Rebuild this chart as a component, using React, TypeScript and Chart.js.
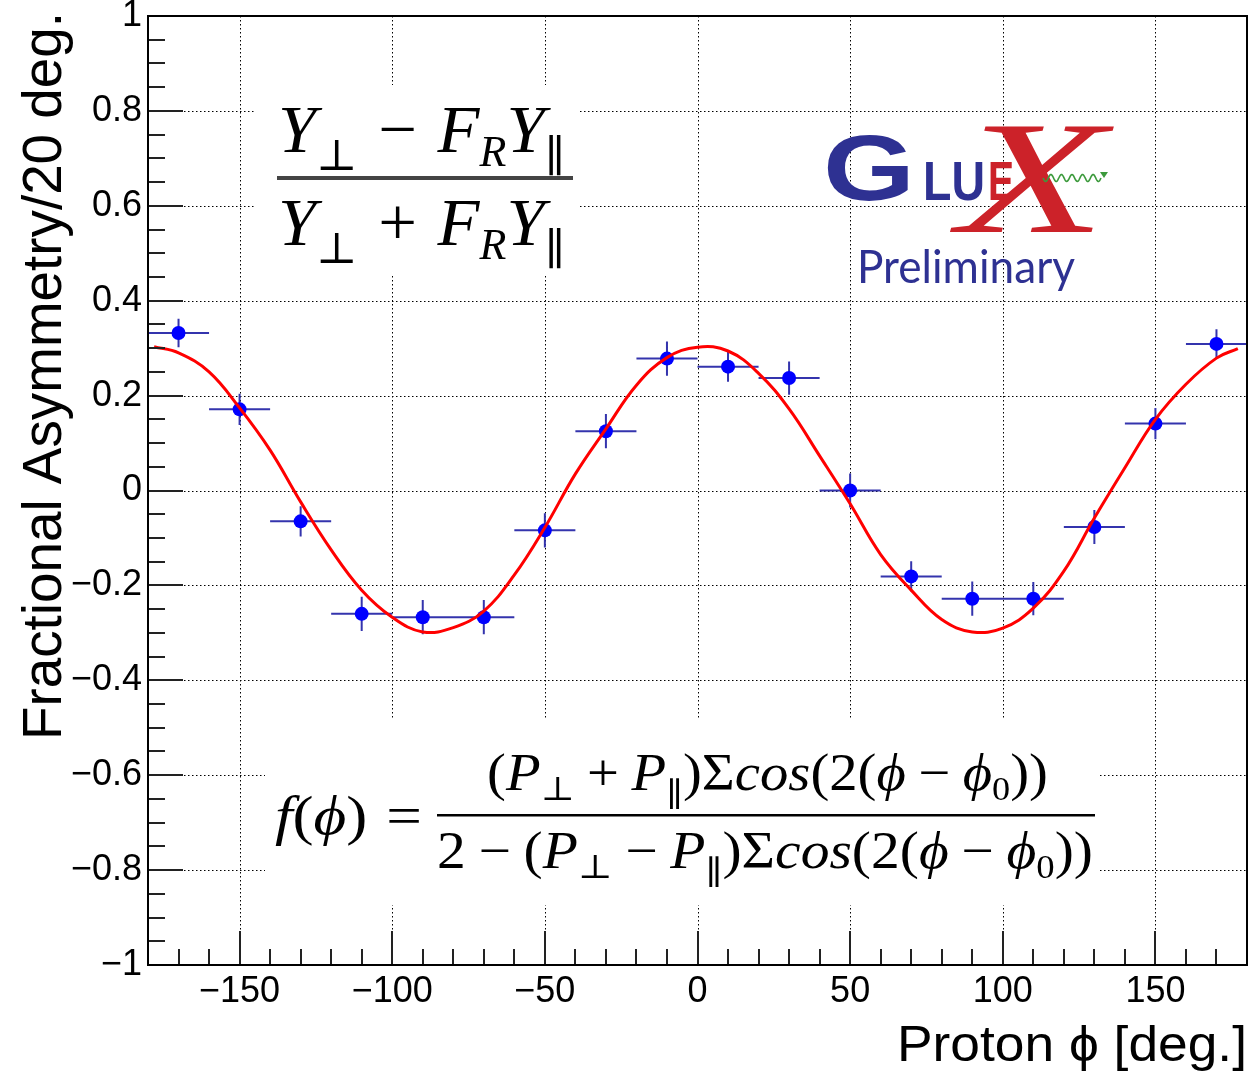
import React, { useEffect, useRef } from "react";
import { Chart, registerables } from "chart.js";

Chart.register(...registerables);

// ---------------- data ----------------
const binCenters = [-170, -150, -130, -110, -90, -70, -50, -30, -10, 10, 30, 50, 70, 90, 110, 130, 150, 170];
const asymmetry = [0.332, 0.171, -0.065, -0.26, -0.267, -0.267, -0.084, 0.125, 0.278, 0.261, 0.237, 0.0, -0.181, -0.228, -0.228, -0.077, 0.141, 0.309];
const asymErr = [0.03, 0.033, 0.032, 0.036, 0.036, 0.036, 0.036, 0.036, 0.036, 0.032, 0.035, 0.036, 0.032, 0.036, 0.035, 0.036, 0.033, 0.031];
const binHalfWidth = 10;

const fitPhi = [-178, -170, -160, -150, -140, -130, -120, -110, -100, -90, -80, -70, -60, -50, -40, -30, -20, -10, 0, 10, 20, 30, 40, 50, 60, 70, 80, 90, 100, 110, 120, 130, 140, 150, 160, 170, 177];
const fitVal = [0.303, 0.29, 0.25, 0.174, 0.085, -0.024, -0.125, -0.21, -0.267, -0.298, -0.289, -0.254, -0.178, -0.078, 0.035, 0.13, 0.222, 0.28, 0.302, 0.294, 0.247, 0.172, 0.073, -0.028, -0.135, -0.21, -0.272, -0.298, -0.29, -0.248, -0.17, -0.058, 0.048, 0.15, 0.224, 0.279, 0.299];

const xTicks = [-150, -100, -50, 0, 50, 100, 150];
const xTickLabels = ["\u2212150", "\u2212100", "\u221250", "0", "50", "100", "150"];
const yTicks = [-1, -0.8, -0.6, -0.4, -0.2, 0, 0.2, 0.4, 0.6, 0.8, 1];
const yTickLabels = ["\u22121", "\u22120.8", "\u22120.6", "\u22120.4", "\u22120.2", "0", "0.2", "0.4", "0.6", "0.8", "1"];
const xMinorStep = 10;
const yMinorStep = 0.05;

const xTitle = "Proton \u03D5 [deg.]";
const yTitle = "Fractional Asymmetry/20 deg.";

// ---------------- helpers ----------------
type Run = { t?: string; it?: boolean; sub?: boolean; gap?: number; dy?: number };

function drawRuns(ctx: CanvasRenderingContext2D, runs: Run[], size: number, family: string, x: number, baseline: number, targetW: number) {
  let w = 0;
  const items: { x: number; t: string; font: string; dy: number }[] = [];
  for (const r of runs) {
    if (r.gap) { w += r.gap * size; continue; }
    const s = r.sub ? size * 0.64 : size;
    const font = `${r.it ? "italic " : ""}${s}px ${family}`;
    ctx.font = font;
    const tw = ctx.measureText(r.t || "").width;
    items.push({ x: w, t: r.t || "", font, dy: (r.sub ? size * 0.2 : 0) + (r.dy || 0) * size });
    w += tw;
  }
  const sx = targetW / w;
  ctx.save();
  ctx.translate(x, baseline);
  ctx.scale(sx, 1);
  ctx.textAlign = "left";
  ctx.textBaseline = "alphabetic";
  for (const it of items) {
    ctx.font = it.font;
    ctx.fillText(it.t, it.x, it.dy);
  }
  ctx.restore();
}

function fitText(ctx: CanvasRenderingContext2D, text: string, font: string, x: number, baseline: number, targetW: number, color: string) {
  ctx.save();
  ctx.font = font;
  ctx.fillStyle = color;
  ctx.textAlign = "left";
  ctx.textBaseline = "alphabetic";
  const w = ctx.measureText(text).width;
  ctx.translate(x, baseline);
  ctx.scale(targetW / w, 1);
  ctx.fillText(text, 0, 0);
  ctx.restore();
}

const SERIF = "'Liberation Serif', 'DejaVu Serif', serif";
const SANS = "'Liberation Sans', Arial, sans-serif";
const PERP = "\u22A5";
const PAR = "\u2225";
const PHI = "\u03D5";

function drawFormulas(ctx: CanvasRenderingContext2D) {
  ctx.fillStyle = "#000";
  // asymmetry definition
  const num: Run[] = [{ t: "Y", it: true }, { t: PERP, sub: true, dy: 0.06 }, { gap: 0.3 }, { t: "\u2212" }, { gap: 0.3 }, { t: "F", it: true }, { t: "R", it: true, sub: true }, { t: "Y", it: true }, { t: PAR, sub: true, dy: 0.08 }];
  const den: Run[] = [{ t: "Y", it: true }, { t: PERP, sub: true, dy: 0.06 }, { gap: 0.3 }, { t: "+" }, { gap: 0.3 }, { t: "F", it: true }, { t: "R", it: true, sub: true }, { t: "Y", it: true }, { t: PAR, sub: true, dy: 0.08 }];
  drawRuns(ctx, num, 68, SERIF, 278, 152, 287);
  drawRuns(ctx, den, 68, SERIF, 278, 245, 287);
  ctx.fillStyle = "#444";
  ctx.fillRect(277, 176, 296, 4);

  // fit function
  ctx.fillStyle = "#000";
  const lhs: Run[] = [{ t: "f", it: true }, { t: "(" }, { t: PHI, it: true }, { t: ")" }, { gap: 0.3 }, { t: "=" }];
  drawRuns(ctx, lhs, 54, SERIF, 275, 834, 147);
  const cosPart: Run[] = [{ t: "\u03A3" }, { t: "cos", it: true }, { t: "(" }, { t: "2" }, { t: "(" }, { t: PHI, it: true }, { gap: 0.22 }, { t: "\u2212" }, { gap: 0.22 }, { t: PHI, it: true }, { t: "0", sub: true }, { t: ")" }, { t: ")" }];
  const fnum: Run[] = [{ t: "(" }, { t: "P", it: true }, { t: PERP, sub: true }, { gap: 0.22 }, { t: "+" }, { gap: 0.22 }, { t: "P", it: true }, { t: PAR, sub: true, dy: 0.1 }, { t: ")" }, ...cosPart];
  const fden: Run[] = [{ t: "2" }, { gap: 0.22 }, { t: "\u2212" }, { gap: 0.22 }, { t: "(" }, { t: "P", it: true }, { t: PERP, sub: true }, { gap: 0.22 }, { t: "\u2212" }, { gap: 0.22 }, { t: "P", it: true }, { t: PAR, sub: true, dy: 0.1 }, { t: ")" }, ...cosPart];
  drawRuns(ctx, fnum, 52, SERIF, 487, 790, 561);
  drawRuns(ctx, fden, 52, SERIF, 437, 868, 656);
  ctx.fillRect(437, 814, 658, 2.5);
}

function drawLogo(ctx: CanvasRenderingContext2D) {
  const blue = "#2e3192";
  const red = "#cc2229";
  fitText(ctx, "G", "bold 92px " + SANS, 823, 200, 92, blue);
  fitText(ctx, "LU", "bold 55px " + SANS, 923, 200, 62, blue);
  fitText(ctx, "X", "italic 160px " + SERIF, 958, 232, 148, red);
  fitText(ctx, "E", "bold 55px " + SANS, 988, 200, 26, red);
  // photon wave
  ctx.save();
  ctx.strokeStyle = "#3c9a3c";
  ctx.lineWidth = 1.6;
  ctx.beginPath();
  for (let i = 0; i <= 120; i++) {
    const t = i / 120;
    const px = 1043 + t * 58;
    const py = 178 + 3.5 * Math.sin(t * Math.PI * 2 * 5.5);
    if (i === 0) ctx.moveTo(px, py); else ctx.lineTo(px, py);
  }
  ctx.stroke();
  ctx.fillStyle = "#3c9a3c";
  ctx.beginPath();
  ctx.moveTo(1108, 172);
  ctx.lineTo(1100, 172);
  ctx.lineTo(1104, 178);
  ctx.closePath();
  ctx.fill();
  ctx.restore();
  fitText(ctx, "Preliminary", "46px Lato, 'Noto Sans', sans-serif", 857, 283, 218, blue);
}

const rootPlugin = {
  id: "rootStyle",
  beforeDatasetsDraw(chart: any) {
    const { ctx, chartArea: a, scales } = chart;
    const x = scales.x;
    const y = scales.y;
    ctx.save();
    // dotted grid
    ctx.strokeStyle = "#000";
    ctx.lineWidth = 1;
    ctx.setLineDash([1.5, 2.5]);
    ctx.beginPath();
    for (const v of xTicks) {
      const px = Math.round(x.getPixelForValue(v)) + 0.5;
      ctx.moveTo(px, a.top);
      ctx.lineTo(px, a.bottom);
    }
    for (const v of yTicks) {
      const py = Math.round(y.getPixelForValue(v)) + 0.5;
      ctx.moveTo(a.left, py);
      ctx.lineTo(a.right, py);
    }
    ctx.stroke();
    ctx.setLineDash([]);
    // opaque formula boxes
    ctx.fillStyle = "#fff";
    ctx.fillRect(255, 85, 323, 190);
    ctx.fillRect(265, 720, 835, 185);
    drawFormulas(ctx);
    drawLogo(ctx);
    // error bars
    ctx.strokeStyle = "#3434ad";
    ctx.lineWidth = 2;
    ctx.beginPath();
    binCenters.forEach((c, i) => {
      const px = x.getPixelForValue(c);
      const py = y.getPixelForValue(asymmetry[i]);
      ctx.moveTo(x.getPixelForValue(c - binHalfWidth), py);
      ctx.lineTo(x.getPixelForValue(c + binHalfWidth), py);
      ctx.moveTo(px, y.getPixelForValue(asymmetry[i] + asymErr[i]));
      ctx.lineTo(px, y.getPixelForValue(asymmetry[i] - asymErr[i]));
    });
    ctx.stroke();
    ctx.restore();
  },
  afterDatasetsDraw(chart: any) {
    const { ctx, chartArea: a, scales } = chart;
    const x = scales.x;
    const y = scales.y;
    ctx.save();
    ctx.strokeStyle = "#222";
    ctx.lineWidth = 2;
    ctx.beginPath();
    // x ticks (inward)
    for (let k = -18; k <= 18; k++) {
      const v = k * xMinorStep;
      const major = xTicks.includes(v);
      const px = Math.round(x.getPixelForValue(v));
      ctx.moveTo(px, a.bottom);
      ctx.lineTo(px, a.bottom - (major ? 34 : 16));
    }
    // y ticks (inward)
    for (let k = -20; k <= 20; k++) {
      const v = k * yMinorStep;
      const major = k % 4 === 0;
      const py = Math.round(y.getPixelForValue(v));
      ctx.moveTo(a.left, py);
      ctx.lineTo(a.left + (major ? 35 : 17), py);
    }
    ctx.stroke();
    // frame
    ctx.strokeStyle = "#000";
    ctx.lineWidth = 2;
    ctx.strokeRect(a.left, a.top, a.right - a.left, a.bottom - a.top);
    ctx.restore();
  },
  afterDraw(chart: any) {
    const { ctx } = chart;
    // x title
    fitText(ctx, xTitle, "50px " + SANS, 1247 - 350, 1061, 350, "#000");
    // y title (rotated, end aligned at top)
    ctx.save();
    ctx.font = "55px " + SANS;
    ctx.fillStyle = "#000";
    const tw = ctx.measureText(yTitle).width;
    ctx.translate(61, 740);
    ctx.rotate(-Math.PI / 2);
    ctx.scale(728 / tw, 1);
    ctx.textAlign = "left";
    ctx.textBaseline = "alphabetic";
    ctx.fillText(yTitle, 0, 0);
    ctx.restore();
  },
};

export default function App() {
  const ref = useRef<HTMLCanvasElement | null>(null);
  useEffect(() => {
    const canvas = ref.current;
    if (!canvas) return;
    const chart = new Chart(canvas, {
      type: "scatter",
      data: {
        datasets: [
          {
            label: "fit",
            data: fitPhi.map((p, i) => ({ x: p, y: fitVal[i] })),
            showLine: true,
            borderColor: "#ff0000",
            borderWidth: 3,
            pointRadius: 0,
            tension: 0.4,
            order: 0,
          },
          {
            label: "asymmetry",
            data: binCenters.map((c, i) => ({ x: c, y: asymmetry[i] })),
            showLine: false,
            pointRadius: 7,
            pointBackgroundColor: "#0000ff",
            pointBorderWidth: 0,
            backgroundColor: "#0000ff",
            borderColor: "#0000ff",
            order: 1,
          },
        ],
      },
      options: {
        animation: false,
        responsive: false,
        maintainAspectRatio: false,
        devicePixelRatio: 1,
        layout: { padding: { top: 16, right: 12, left: 0, bottom: 0 } },
        plugins: { legend: { display: false }, tooltip: { enabled: false }, title: { display: false } },
        scales: {
          x: {
            type: "linear",
            min: -180,
            max: 180,
            grid: { display: false, drawTicks: false, tickLength: 0 },
            border: { display: false },
            afterBuildTicks: (s: any) => { s.ticks = xTicks.map((v) => ({ value: v })); },
            afterFit: (s: any) => { s.height = 111; s.paddingLeft = 0; s.paddingRight = 0; },
            ticks: {
              autoSkip: false,
              maxRotation: 0,
              padding: 5,
              color: "#000",
              font: { family: SANS, size: 36 },
              callback: (v: any) => xTickLabels[xTicks.indexOf(Number(v))] ?? "",
            },
          },
          y: {
            type: "linear",
            min: -1,
            max: 1,
            grid: { display: false, drawTicks: false, tickLength: 0 },
            border: { display: false },
            afterBuildTicks: (s: any) => { s.ticks = yTicks.map((v) => ({ value: v })); },
            afterFit: (s: any) => { s.width = 148; s.paddingTop = 0; s.paddingBottom = 0; },
            ticks: {
              autoSkip: false,
              padding: 6,
              color: "#000",
              font: { family: SANS, size: 36 },
              callback: (v: any) => {
                const i = yTicks.findIndex((t) => Math.abs(t - Number(v)) < 1e-6);
                return i >= 0 ? yTickLabels[i] : "";
              },
            },
          },
        },
      },
      plugins: [rootPlugin],
    } as any);
    return () => chart.destroy();
  }, []);
  return (
    <div style={{ position: "absolute", left: 0, top: 0, width: 1259, height: 1076, background: "#fff" }}>
      <canvas ref={ref} width={1259} height={1076} style={{ display: "block", width: 1259, height: 1076 }} />
    </div>
  );
}
